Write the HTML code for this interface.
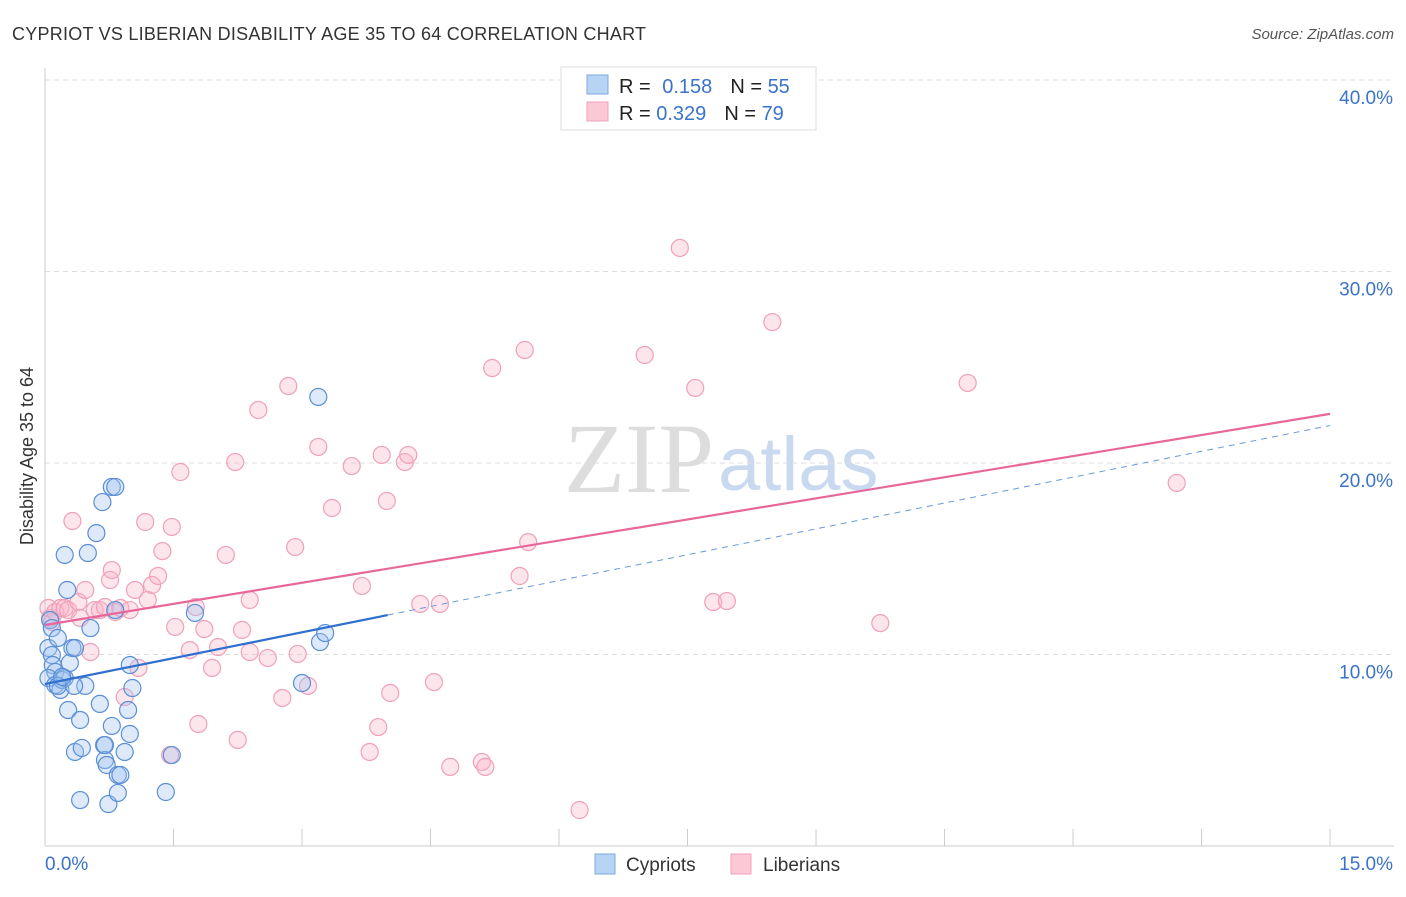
<!DOCTYPE html>
<html><head><meta charset="utf-8"><style>
body{margin:0;background:#fff;font-family:"Liberation Sans",sans-serif}
svg text{font-family:"Liberation Sans",sans-serif}
</style></head><body>
<svg id="c" width="1406" height="892">
<text x="12" y="40" font-size="18" fill="#333" textLength="634">CYPRIOT VS LIBERIAN DISABILITY AGE 35 TO 64 CORRELATION CHART</text>
<text x="1394" y="39" font-size="15" fill="#555" font-style="italic" text-anchor="end">Source: ZipAtlas.com</text>
<text x="714" y="492" font-size="100" fill="#ddd" style="font-family:'Liberation Serif',serif" text-anchor="end">ZIP</text>
<text x="718" y="490" font-size="76" fill="#c9daf0">atlas</text>
<text transform="translate(33,456) rotate(-90)" font-size="18" fill="#333" text-anchor="middle">Disability Age 35 to 64</text>
<g id="grid"></g><g id="pts"></g><g id="lines"></g>
<g>
<rect x="561" y="67" width="255" height="63" fill="#fff" stroke="#ddd"/>
<rect x="587" y="75" width="21" height="19" fill="#b8d4f5" stroke="#7aa8e0"/>
<rect x="587" y="102" width="21" height="19" fill="#fcc8d6" stroke="#eea0b8"/>
<text x="619" y="93" font-size="20" fill="#222">R = <tspan fill="#3a73c9" dx="6">0.158</tspan><tspan fill="#222" dx="18">N = </tspan><tspan fill="#3a73c9">55</tspan></text>
<text x="619" y="120" font-size="20" fill="#222">R = <tspan fill="#3a73c9">0.329</tspan><tspan fill="#222" dx="18">N = </tspan><tspan fill="#3a73c9">79</tspan></text>
</g>
<g>
<rect x="595" y="854" width="20" height="20" fill="#b8d4f5" stroke="#7aa8e0"/>
<text x="626" y="871" font-size="19" fill="#333">Cypriots</text>
<rect x="731" y="854" width="20" height="20" fill="#fcc8d6" stroke="#eea0b8"/>
<text x="763" y="871" font-size="19" fill="#333">Liberians</text>
</g>
</svg>
<script>
const yTicks=[10,20,30,40];
const yTickLabels=["10.0%","20.0%","30.0%","40.0%"];
const xTickLabels=["0.0%","15.0%"];
const blueX=[0.06,0.08,0.04,0.08,0.09,0.12,0.04,0.12,0.18,0.2,0.23,0.15,0.23,0.26,0.29,0.32,0.35,0.27,0.35,0.41,0.43,0.47,0.5,0.53,0.6,0.64,0.67,0.69,0.7,0.72,0.74,0.78,0.82,0.78,0.82,0.85,0.88,0.85,0.93,0.97,0.99,0.99,1.02,0.41,1.41,1.48,1.75,3.0,3.19,3.21,3.27,0.15,0.34,0.2,0.7];
const blueY=[11.8,11.38,10.34,9.97,9.45,9.09,8.77,8.41,8.15,8.67,8.77,10.86,15.2,13.37,9.56,10.34,10.34,7.1,4.91,6.58,5.12,8.36,15.3,11.38,16.34,7.42,17.96,5.27,4.49,4.23,2.19,18.75,18.75,6.27,12.32,3.71,3.71,2.77,4.91,7.1,5.85,9.45,8.25,2.4,2.82,4.75,12.17,8.51,23.45,10.65,11.12,8.36,8.36,8.83,5.27];
const pinkX=[0.04,0.06,0.08,0.12,0.18,0.23,0.27,0.32,0.39,0.41,0.47,0.53,0.58,0.64,0.7,0.76,0.78,0.82,0.88,0.93,0.99,1.05,1.09,1.17,1.2,1.25,1.32,1.37,1.46,1.48,1.52,1.58,1.69,1.76,1.79,1.86,1.95,2.02,2.11,2.22,2.25,2.3,2.39,2.39,2.49,2.6,2.77,2.84,2.92,2.95,3.07,3.19,3.35,3.58,3.7,3.79,3.89,3.93,3.99,4.03,4.2,4.24,4.38,4.54,4.61,4.73,5.1,5.14,5.22,5.54,5.6,5.64,6.24,7.0,7.41,7.59,7.8,7.96,8.49,9.75,10.77,13.21];
const pinkY=[12.43,11.91,11.7,12.22,12.43,12.43,12.32,16.97,12.74,11.91,13.37,10.13,12.32,12.32,12.48,13.89,14.41,12.22,12.43,7.78,12.32,13.37,9.3,16.92,12.85,13.63,14.1,15.4,4.75,16.66,11.44,19.53,10.23,12.48,6.37,11.33,9.3,10.39,15.2,20.05,5.54,11.28,10.13,12.85,22.77,9.82,7.73,24.02,15.61,10.03,8.36,20.84,17.65,19.84,13.58,4.91,6.21,20.42,18.02,7.99,20.05,20.42,12.64,8.56,12.64,4.13,4.39,4.13,24.96,14.1,25.9,15.87,1.88,25.64,31.23,23.92,12.74,12.79,27.36,11.64,24.18,18.96];
const blueFit=[8.46,0.9]; const pinkFit=[11.54,0.735];
const NS='http://www.w3.org/2000/svg';
const X=v=>45+v*85.67, Y=v=>846-v*19.15;
function mk(t,a,p){const e=document.createElementNS(NS,t);for(const k in a)e.setAttribute(k,a[k]);p.appendChild(e);return e;}
const g=document.getElementById('grid');
yTicks.forEach((t,i)=>{
 const l=mk('line',{x1:45,x2:1394,y1:Y(t),y2:Y(t),stroke:'#ddd','stroke-dasharray':'5,4'},g);
 
 
 const tx=mk('text',{x:1393,y:Y(t)+24,'font-size':19,fill:'#3a73c9','text-anchor':'end'},g);tx.textContent=yTickLabels[i];
 
 
});
mk('line',{x1:45,x2:1394,y1:846,y2:846,stroke:'#ccc'},g);
mk('line',{x1:45,x2:45,y1:68,y2:846,stroke:'#ccc'},g);
for(let i=0;i<=10;i++){mk('line',{x1:X(i*1.5),x2:X(i*1.5),y1:829,y2:846,stroke:'#ccc'},g);}
const xl0=mk('text',{x:45,y:870,'font-size':19,fill:'#3a73c9'},g);xl0.textContent=xTickLabels[0];


const xl1=mk('text',{x:1393,y:870,'font-size':19,fill:'#3a73c9','text-anchor':'end'},g);xl1.textContent=xTickLabels[1];


const p=document.getElementById('pts');
pinkX.forEach((v,i)=>{const c=mk('circle',{cx:X(v),cy:Y(pinkY[i]),r:8.5,fill:'rgba(248,180,200,0.35)',stroke:'#f0a0b8','stroke-width':1.2},p);
 
 });
blueX.forEach((v,i)=>{const c=mk('circle',{cx:X(v),cy:Y(blueY[i]),r:8.5,fill:'rgba(160,196,240,0.35)',stroke:'#5a8fd6','stroke-width':1.2},p);
 
 });
const L=document.getElementById('lines');
const pl=mk('line',{x1:X(0),y1:Y(pinkFit[0]),x2:X(15),y2:Y(pinkFit[0]+15*pinkFit[1]),stroke:'#e8679a','stroke-width':2.2},L);


const bd=mk('line',{x1:X(4),y1:Y(blueFit[0]+4*blueFit[1]),x2:X(15),y2:Y(blueFit[0]+15*blueFit[1]),stroke:'#6a9ad8','stroke-width':1,'stroke-dasharray':'6,5'},L);


const bl=mk('line',{x1:X(0),y1:Y(blueFit[0]),x2:X(4),y2:Y(blueFit[0]+4*blueFit[1]),stroke:'#2f6fd0','stroke-width':2.2},L);


</script>
</body></html>
